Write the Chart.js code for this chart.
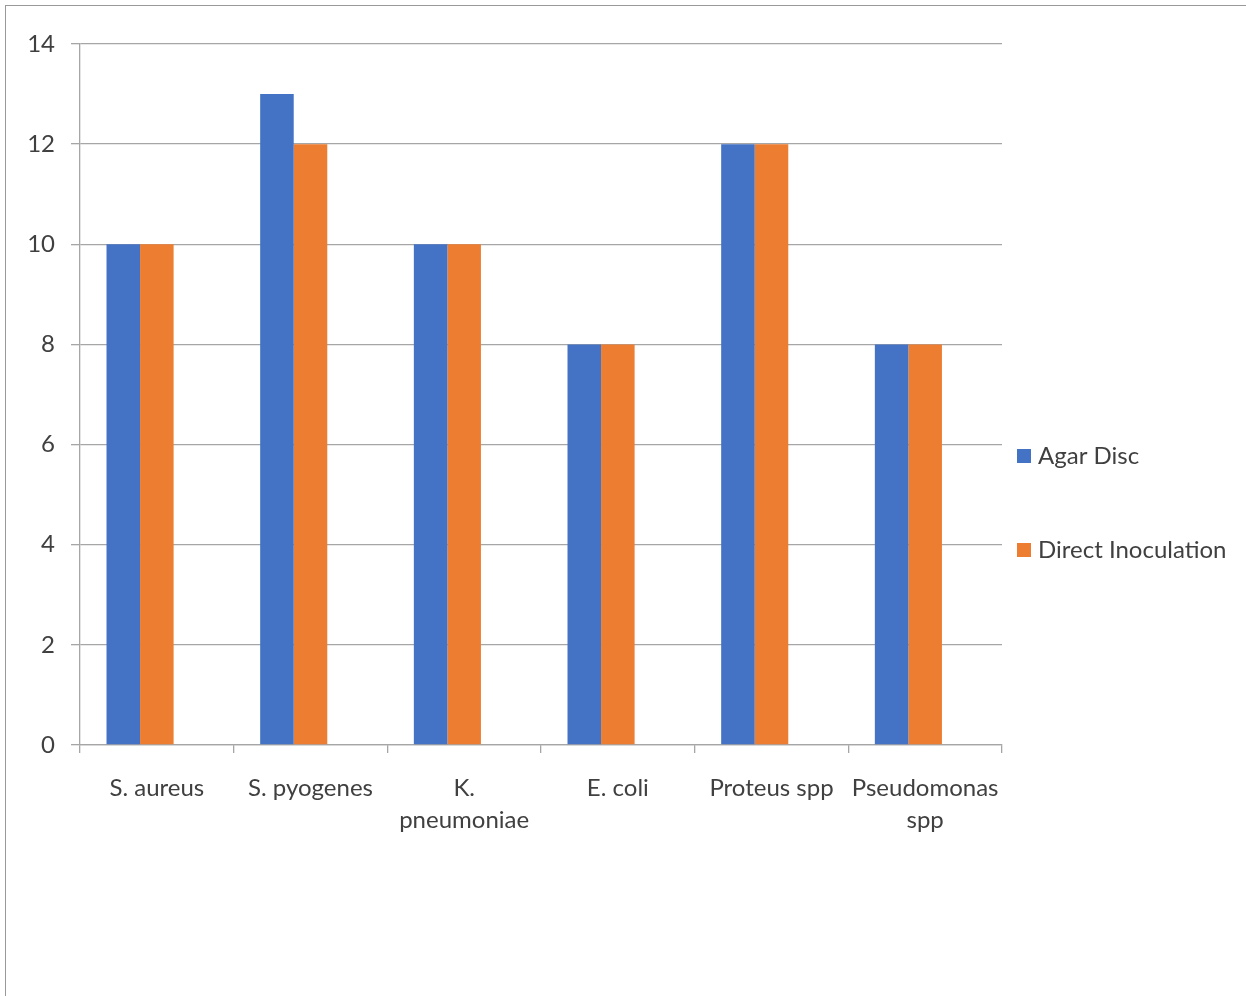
<!DOCTYPE html>
<html>
<head>
<meta charset="utf-8">
<script src="https://cdn.jsdelivr.net/npm/chart.js@4.4.0/dist/chart.umd.min.js"></script>
<style>
html,body{margin:0;padding:0;background:#fff}
#wrap{position:relative;width:1246px;height:996px}
#frame{position:absolute;left:5px;top:5px;right:0;bottom:0;border-top:1.5px solid #999;border-left:1.5px solid #999}
canvas{position:absolute;left:0;top:0}
</style>
</head>
<body>
<div id="wrap">
<div id="frame"></div>
<canvas id="chart" width="1246" height="996"></canvas>
</div>
<script>
const categories=[["S. aureus"],["S. pyogenes"],["K.","pneumoniae"],["E. coli"],["Proteus spp"],["Pseudomonas","spp"]]
const agarDisc=[10,13,10,8,12,8]
const directInoculation=[10,12,10,8,12,8]
// the original keeps an empty third series slot, which pushes the pair left
const emptySeries=[]
const yTicks=[0,2,4,6,8,10,12,14]

const FONT="Lato, 'Open Sans', sans-serif"
const TEXT="#404040"
const GRID="#a6a6a6"

// legend drawn at the right, spaced like the original
const sideLegend={
id:"sideLegend",
afterDraw(chart){
const ctx=chart.ctx
const rows=[456,550]
ctx.save()
ctx.font="24px "+FONT
ctx.textBaseline="middle"
chart.data.datasets.slice(0,2).forEach((ds,i)=>{
ctx.fillStyle=ds.backgroundColor
ctx.fillRect(1017,rows[i]-7,14,14)
ctx.fillStyle=TEXT
ctx.fillText(ds.label,1038,rows[i])
})
ctx.restore()
}
}

new Chart(document.getElementById("chart"),{
type:"bar",
data:{
labels:categories,
datasets:[
{label:"Agar Disc",data:agarDisc,backgroundColor:"#4472c4"},
{label:"Direct Inoculation",data:directInoculation,backgroundColor:"#ed7d31"},
{label:"",data:emptySeries,backgroundColor:"#a5a5a5"}
]
},
options:{
responsive:false,
animation:false,
layout:{padding:{left:0,right:244,top:44,bottom:0}},
categoryPercentage:0.655,
barPercentage:1,
plugins:{legend:{display:false},tooltip:{enabled:false}},
scales:{
x:{
grid:{offset:true,drawOnChartArea:false,color:GRID,tickLength:8,lineWidth:1.3},
border:{color:GRID,width:1.3},
ticks:{color:TEXT,font:{family:FONT,size:24,lineHeight:1.34},padding:19,maxRotation:0,autoSkip:false},
afterFit(s){s.height=251}
},
y:{
min:0,max:14,
afterBuildTicks(s){s.ticks=yTicks.map(v=>({value:v}))},
grid:{color:GRID,tickLength:9,lineWidth:1.3},
border:{color:GRID,width:1.3},
ticks:{color:TEXT,font:{family:FONT,size:24},padding:16},
afterFit(s){s.width=80}
}
}
},
plugins:[sideLegend]
})
</script>
</body>
</html>
